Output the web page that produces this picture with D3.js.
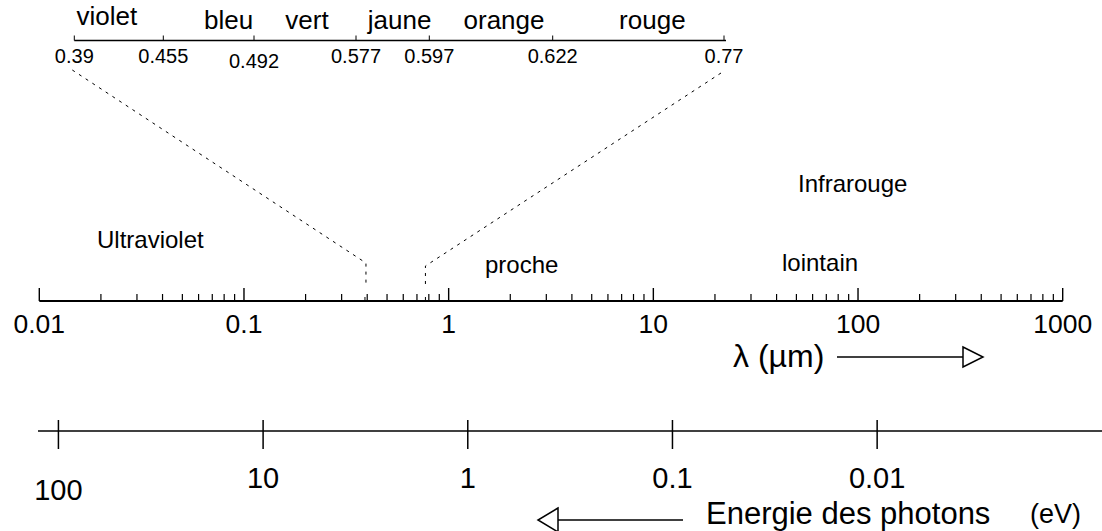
<!DOCTYPE html>
<html><head><meta charset="utf-8">
<script src="https://cdn.jsdelivr.net/npm/d3@7"></script>
<style>
html,body{margin:0;padding:0;background:#fff;}
svg text{font-family:"Liberation Sans",Arial,Helvetica,sans-serif;fill:#000;}
</style></head>
<body>
<svg id="c" width="1102" height="531"></svg>
<script>
// ---------- data ----------
const bandNames = ["violet","bleu","vert","jaune","orange","rouge"];
const bandEdges = [0.39,0.455,0.492,0.577,0.597,0.622,0.77];        // µm
const bandEdgeLabels = ["0.39","0.455","0.492","0.577","0.597","0.622","0.77"];
const lambdaMajor = [0.01,0.1,1,10,100,1000];                        // µm
const lambdaMajorLabels = ["0.01","0.1","1","10","100","1000"];
const energyTicks = [100,10,1,0.1,0.01];                             // eV
const energyLabels = ["100","10","1","0.1","0.01"];
const regionLabels = ["Ultraviolet","Infrarouge","proche","lointain"];
const hc = 1.24;   // µm·eV, λ(µm) = 1.24 / E(eV)

// ---------- layout ----------
const svg = d3.select("#c");
const x = d3.scaleLog().domain([0.01,1000]).range([39.3,1062.7]);
const xE = e => x(hc / e);
const xb = d3.scaleLinear().domain(bandEdges).range([74.3,163.3,254,356,429.3,552.7,724]);
const axisY = 301, topY = 40.5, energyY = 431;

// top visible-spectrum scale
svg.append("line").attr("x1",xb(bandEdges[0])).attr("x2",xb(bandEdges[bandEdges.length-1])+2)
  .attr("y1",topY).attr("y2",topY).attr("stroke","#000").attr("stroke-width",1.5);
svg.selectAll(".bt").data(bandEdges).join("line")
  .attr("x1",d=>xb(d)).attr("x2",d=>xb(d)).attr("y1",topY).attr("y2",topY-5)
  .attr("stroke","#000").attr("stroke-width",1);
const edgeDy = [0,0,5,0,0,0,0];
svg.selectAll(".bl").data(bandEdges).join("text")
  .attr("x",d=>xb(d)).attr("y",(d,i)=>63+edgeDy[i]).attr("text-anchor","middle")
  .attr("font-size",20).text((d,i)=>bandEdgeLabels[i]);
const nameShift = [-12,20,2,7,13,14];
const nameY = [25,29,29,29,29,29];
svg.selectAll(".bn").data(bandNames).join("text")
  .attr("x",(d,i)=>(xb(bandEdges[i])+xb(bandEdges[i+1]))/2 + nameShift[i])
  .attr("y",(d,i)=>nameY[i]).attr("text-anchor","middle").attr("font-size",26).text(d=>d);

// main wavelength axis
const minor = x.ticks().filter(t => !lambdaMajor.some(m => Math.abs(m - t) / m < 1e-6));
svg.append("line").attr("x1",x.range()[0]).attr("x2",x.range()[1]).attr("y1",axisY).attr("y2",axisY)
  .attr("stroke","#000").attr("stroke-width",1.8);
svg.selectAll(".mn").data(minor).join("line")
  .attr("x1",d=>x(d)).attr("x2",d=>x(d)).attr("y1",axisY).attr("y2",axisY-7)
  .attr("stroke","#000").attr("stroke-width",1.2);
svg.selectAll(".mj").data(lambdaMajor).join("line")
  .attr("x1",d=>x(d)).attr("x2",d=>x(d)).attr("y1",axisY).attr("y2",axisY-13)
  .attr("stroke","#000").attr("stroke-width",1.4);
// marks at the visible band limits
svg.selectAll(".vl").data([bandEdges[0], bandEdges[bandEdges.length-1]]).join("line")
  .attr("x1",d=>x(d)).attr("x2",d=>x(d)).attr("y1",axisY).attr("y2",axisY-4)
  .attr("stroke","#000").attr("stroke-width",1);
svg.selectAll(".ml").data(lambdaMajor).join("text")
  .attr("x",d=>x(d)).attr("y",333).attr("text-anchor","middle").attr("font-size",26.5)
  .text((d,i)=>lambdaMajorLabels[i]);

// dashed connectors from the visible scale to the wavelength axis
const lo = bandEdges[0], hi = bandEdges[bandEdges.length-1];
const conn = [
  [[xb(lo)-2,70],[x(lo)+1,263],[x(lo)+1,287]],
  [[xb(hi)-3,73],[x(hi),266],[x(hi),287]]
];
svg.selectAll(".cn").data(conn).join("path")
  .attr("d",d=>d3.line()(d)).attr("fill","none").attr("stroke","#000")
  .attr("stroke-width",1).attr("stroke-dasharray","3,5");

// region labels
const regionPos = [[97,248],[798,192],[485,273],[782,271]];
svg.selectAll(".rg").data(regionLabels).join("text")
  .attr("x",(d,i)=>regionPos[i][0]).attr("y",(d,i)=>regionPos[i][1])
  .attr("font-size",24).text(d=>d);

// λ label with arrow
svg.append("text").attr("x",733).attr("y",367).attr("font-size",32).text("λ (µm)");
svg.append("line").attr("x1",837).attr("x2",963).attr("y1",357).attr("y2",357)
  .attr("stroke","#000").attr("stroke-width",1.5);
svg.append("path").attr("d","M963,347 L983,357 L963,367 Z").attr("fill","#fff")
  .attr("stroke","#000").attr("stroke-width",1.5);

// energy axis
svg.append("line").attr("x1",38).attr("x2",1102).attr("y1",energyY).attr("y2",energyY)
  .attr("stroke","#000").attr("stroke-width",1.5);
svg.selectAll(".et").data(energyTicks).join("line")
  .attr("x1",d=>xE(d)).attr("x2",d=>xE(d)).attr("y1",energyY-11).attr("y2",energyY+18)
  .attr("stroke","#000").attr("stroke-width",1.5);
const eDy = [12,0,0,0,0];
svg.selectAll(".el").data(energyTicks).join("text")
  .attr("x",d=>xE(d)).attr("y",(d,i)=>488+eDy[i]).attr("text-anchor","middle")
  .attr("font-size",29).text((d,i)=>energyLabels[i]);

// energy arrow & title
svg.append("line").attr("x1",558).attr("x2",683).attr("y1",520).attr("y2",520)
  .attr("stroke","#000").attr("stroke-width",1.5);
svg.append("path").attr("d","M558,508 L538,520 L558,532 Z").attr("fill","#fff")
  .attr("stroke","#000").attr("stroke-width",1.5);
svg.append("text").attr("x",706).attr("y",524).attr("font-size",31).text("Energie des photons");
svg.append("text").attr("x",1030).attr("y",523).attr("font-size",27).text("(eV)");
</script>
</body></html>
